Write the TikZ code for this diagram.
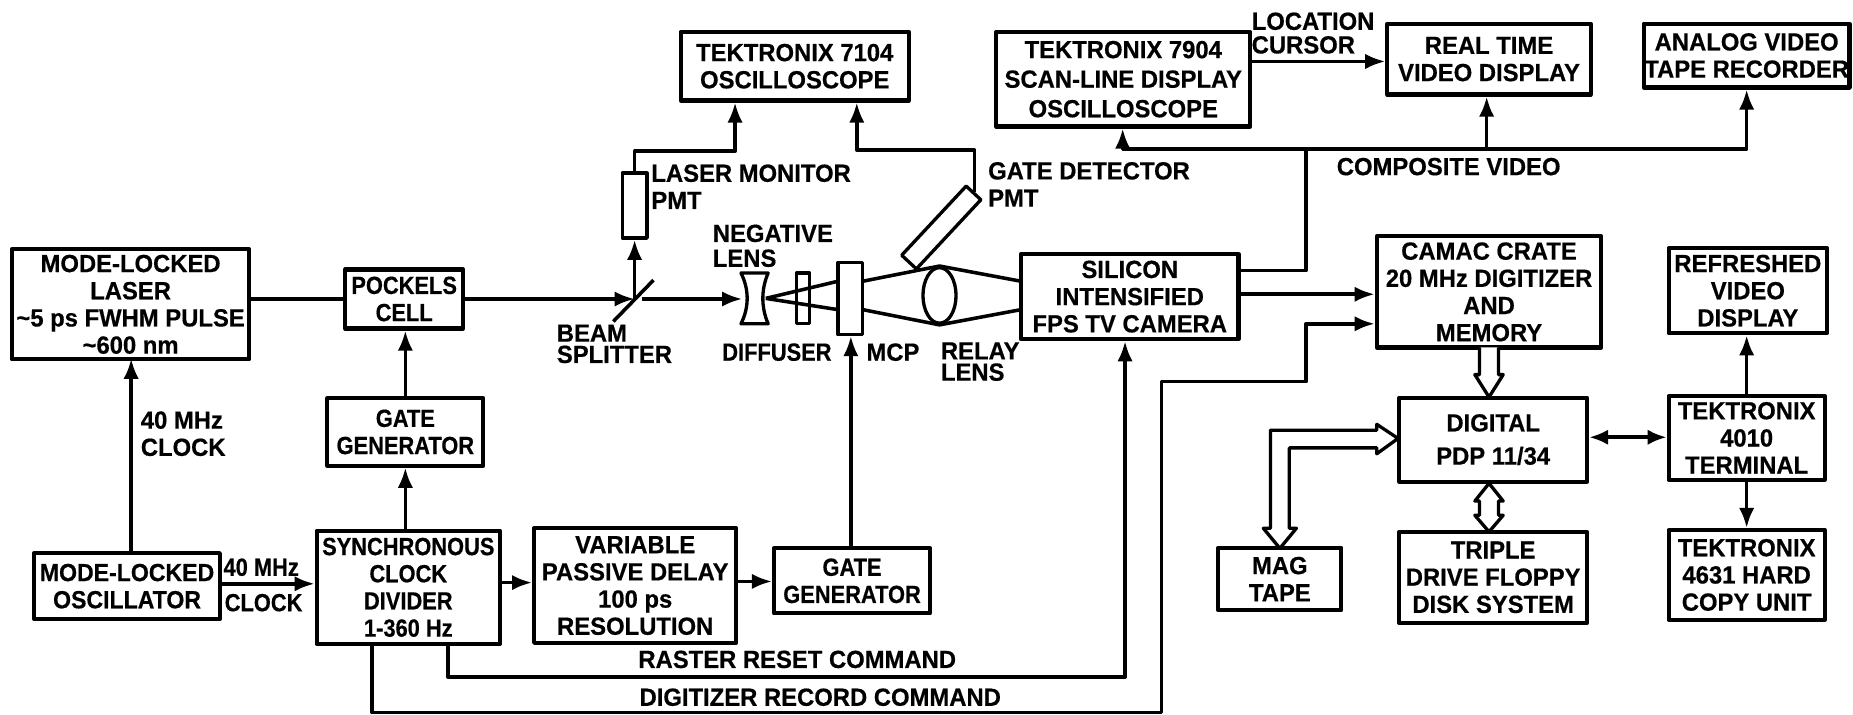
\documentclass[tikz,border=0pt]{standalone}
\usepackage{fontspec}
\newfontfamily\labfont{Liberation Sans Bold}[FakeStretch=0.96,FakeBold=0.5]
\newfontfamily\mdw{Liberation Sans Bold}[FakeStretch=0.93,FakeBold=0.5]
\newfontfamily\nrw{Liberation Sans Bold}[FakeStretch=0.88,FakeBold=0.5]
\usetikzlibrary{arrows.meta,shapes.geometric,calc}
\tikzset{
  x=1pt,y=-1pt,
  txt/.style={font=\labfont\fontsize{21}{23}\selectfont,align=center,inner sep=0pt},
  lbl/.style={txt,align=left,anchor=west},
  box/.style={txt,draw,line width=3.5pt,line join=round,fill=white},
  part/.style={draw,line width=2.8pt,fill=white,inner sep=0pt,line join=round},
  conn/.style={line width=3pt,line join=round,-{Latex[length=17pt,width=13pt]}},
  plain/.style={line width=3pt,line join=round},
  both/.style={line width=3pt,{Latex[length=16pt,width=13pt]}-{Latex[length=16pt,width=13pt]}},
  hollow/.style={line width=2.8pt,line join=round,fill=white},
}
\begin{document}
\begin{tikzpicture}
\useasboundingbox[fill=white] (0,0) rectangle (1568,605);
% boxes
\node[box,minimum width=201pt,minimum height=93pt] (laser) at (110.5,257.5) {MODE-LOCKED\\LASER\\{\char`\~}5 ps FWHM PULSE\\{\char`\~}600 nm};
\node[box,minimum width=100pt,minimum height=50pt] (pockels) at (342,253) {\nrw POCKELS\\\nrw CELL};
\node[box,minimum width=132pt,minimum height=57pt] (gate1) at (343,365.5) {\nrw GATE\\\nrw GENERATOR};
\node[box,minimum width=157pt,minimum height=56pt] (osc) at (107.5,496) {\mdw MODE-LOCKED\\\mdw OSCILLATOR};
\node[box,minimum width=155pt,minimum height=96pt] (sync) at (345.5,497) {\nrw SYNCHRONOUS\\\nrw CLOCK\\\nrw DIVIDER\\\nrw 1-360 Hz};
\node[box,minimum width=171pt,minimum height=97pt] (delay) at (537.5,495.5) {VARIABLE\\PASSIVE DELAY\\100 ps\\RESOLUTION};
\node[box,minimum width=132pt,minimum height=55pt] (gate2) at (721,491.5) {\nrw GATE\\\nrw GENERATOR};
\node[box,minimum width=193pt,minimum height=58pt] (t7104) at (672.5,56) {TEKTRONIX 7104\\OSCILLOSCOPE};
\node[box,minimum width=215pt,minimum height=80pt] (t7904) at (950.5,67) {TEKTRONIX 7904\\[2pt]SCAN-LINE DISPLAY\\[2pt]OSCILLOSCOPE};
\node[box,minimum width=172pt,minimum height=60pt] (rtv) at (1260,50) {REAL TIME\\VIDEO DISPLAY};
\node[box,minimum width=174pt,minimum height=54pt] (avtr) at (1478,47) {ANALOG VIDEO\\TAPE RECORDER};
\node[box,minimum width=184pt,minimum height=72pt] (sit) at (956,251) {SILICON\\INTENSIFIED\\FPS TV CAMERA};
\node[box,minimum width=190pt,minimum height=94pt] (camac) at (1260,247) {CAMAC CRATE\\20 MHz DIGITIZER\\AND\\MEMORY};
\node[box,minimum width=159pt,minimum height=71pt] (pdp) at (1263.5,372) {DIGITAL\\[5pt]PDP 11/34};
\node[box,minimum width=134pt,minimum height=72pt] (refr) at (1479,246) {REFRESHED\\VIDEO\\DISPLAY};
\node[box,minimum width=132pt,minimum height=71pt] (t4010) at (1478,370.5) {TEKTRONIX\\4010\\TERMINAL};
\node[box,minimum width=104pt,minimum height=53pt] (mag) at (1083,490) {MAG\\TAPE};
\node[box,minimum width=159pt,minimum height=77pt] (floppy) at (1263.5,488.5) {TRIPLE\\DRIVE FLOPPY\\DISK SYSTEM};
\node[box,minimum width=132pt,minimum height=76pt] (t4631) at (1478,486.5) {TEKTRONIX\\4631 HARD\\COPY UNIT};
% optical parts
\node[part,minimum width=21pt,minimum height=55pt] (lpmt) at (537,174) {};
\node[part,rotate=47,minimum width=80pt,minimum height=17pt] (gpmt) at (796.5,192.5) {};
\node[part,fill=none,minimum width=11pt,minimum height=43pt] (diff) at (679.5,252.5) {};
\coordinate (lensR) at (648,252.5);
\coordinate (rayA) at (709,238);
\coordinate (rayB) at (709,262);
\draw[plain] (lensR) -- (rayA) (lensR) -- (rayB);
\node[part,minimum width=21pt,minimum height=61pt] (mcp) at (719.5,252.5) {};
\node[part,ellipse,minimum width=28pt,minimum height=47pt] (relay) at (795,250) {};
\coordinate (mcpA) at (730,238);
\coordinate (mcpB) at (730,262);
\coordinate (sitA) at (864,238);
\coordinate (sitB) at (864,262);
\draw[plain] (mcpA) -- (relay.north) -- (sitA);
\draw[plain] (mcpB) -- (relay.south) -- (sitB);
\draw[line width=2.8pt,line join=round,fill=white] (627,231) -- (650,231) .. controls (644,245) and (644,260) .. (650,274) -- (627,274) .. controls (634,260) and (634,245) .. (627,231) -- cycle;
% beam splitter
\coordinate (bsA) at (519,272);
\coordinate (bsB) at (553,237);
\coordinate (bs) at (537,253);
\coordinate (lensL) at (628,253);
\draw[plain] (bsA) -- (bsB);
% beam path
\draw[plain] (pockels.west -| laser.east) -- (pockels.west);
\draw[conn] (pockels.east) -- (bs);
\draw[conn] ($(bs)+(6,0)$) -- (lensL);
\draw[conn] (bs) -- (lpmt.south);
\coordinate (m1) at (622,128);
\draw[conn] (lpmt.north) |- (m1) -- (m1 |- t7104.south);
\coordinate (m2) at (725,127);
\draw[conn] (gpmt.east) |- (m2) -- (m2 |- t7104.south);
% timing
\draw[conn] (osc.north -| 111,0) -- (111,303.5);
\draw[conn] (osc.east |- 0,494) -- (sync.west |- 0,494);
\draw[conn] (343,449) -- (gate1.south -| 343,0);
\draw[conn] (gate1.north -| 343,0) -- (pockels.south -| 343,0);
\draw[conn] (sync.east |- 0,493) -- (delay.west |- 0,493);
\draw[conn] (delay.east |- 0,492) -- (gate2.west |- 0,492);
\draw[conn] (gate2.north -| 720,0) -- (mcp.south -| 720,0);
\coordinate (r1) at (379,573);
\coordinate (r2) at (952,573);
\draw[conn] (r1 |- sync.south) -- (r1) -- (r2) -- (r2 |- sit.south);
\coordinate (d1) at (315,603);
\coordinate (d2) at (983,603);
\coordinate (d3) at (983,323);
\coordinate (d4) at (1105,323);
\coordinate (d5) at (1105,274);
\draw[conn] (d1 |- sync.south) -- (d1) -- (d2) -- (d3) -- (d4) -- (d5) -- (d5 -| camac.west);
% video
\coordinate (v1) at (1105,229);
\coordinate (v2) at (1105,126);
\coordinate (v3) at (950,126);
\coordinate (v4) at (1478,126);
\coordinate (v5) at (1258,126);
\draw[conn] (sit.east |- v1) -- (v1) -- (v2) -- (v3) -- (v3 |- t7904.south);
\draw[conn] (v2) -- (v4) -- (v4 |- avtr.south);
\draw[conn] (v5) -- (v5 |- rtv.south);
\draw[conn] (t7904.east |- 0,52) -- (rtv.west |- 0,52);
\draw[conn] (sit.east |- 0,249) -- (camac.west |- 0,249);
% computer links
\draw[both] (pdp.east |- 0,370) -- (t4010.west |- 0,370);
\draw[conn] (t4010.north -| 1478,0) -- (refr.south -| 1478,0);
\draw[conn] (t4010.south -| 1478,0) -- (t4631.north -| 1478,0);
% hollow buses
\draw[hollow] (1252,294) -- (1252,317) -- (1248,317) -- (1260,336) -- (1272,317) -- (1268,317) -- (1268,294);
\draw[hollow] (1260,409) -- (1248,424) -- (1252,424) -- (1252,436) -- (1248,436) -- (1260,450) -- (1272,436) -- (1268,436) -- (1268,424) -- (1272,424) -- cycle;
\draw[hollow] (1183,371) -- (1165,359) -- (1165,364) -- (1075,364) -- (1075,447) -- (1069,447) -- (1083,464) -- (1097,447) -- (1091,447) -- (1091,379) -- (1165,379) -- (1165,384) -- cycle;
% labels
\node[lbl] (lmon) at (551,158) {LASER MONITOR\\PMT};
\node[lbl] (gdet) at (836,156) {GATE DETECTOR\\PMT};
\node[lbl] (neg) at (603,208) {NEGATIVE\\[-2pt]LENS};
\node[lbl] (bsl) at (471,291) {BEAM\\[-5pt]SPLITTER};
\node[lbl] (dfl) at (611,298) {\nrw DIFFUSER};
\node[lbl] (mcl) at (733,298) {MCP};
\node[lbl] (rel) at (796,306) {RELAY\\[-5pt]LENS};
\node[lbl] (loc) at (1059,28) {LOCATION\\[-3pt]CURSOR};
\node[lbl] (cv) at (1131,141) {COMPOSITE VIDEO};
\node[lbl] (ck1) at (119,367) {40 MHz\\CLOCK};
\node[lbl] (ck2a) at (189,480) {\nrw 40 MHz};
\node[lbl] (ck2b) at (190,510) {\nrw CLOCK};
\node[lbl] (ras) at (540,558) {RASTER RESET COMMAND};
\node[lbl] (dig) at (541,590) {DIGITIZER RECORD COMMAND};
\end{tikzpicture}
\end{document}
